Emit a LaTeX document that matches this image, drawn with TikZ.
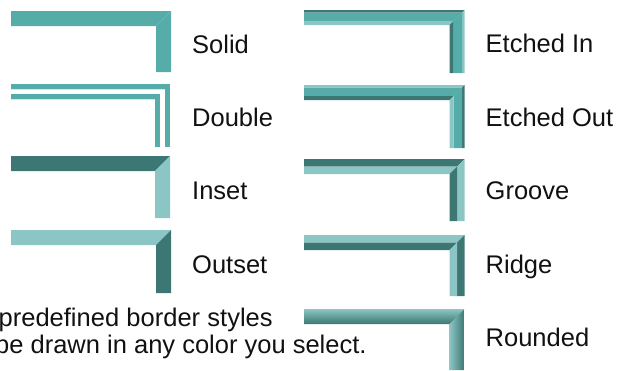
\documentclass[tikz,border=0pt]{standalone}
\usepackage{fontspec}
\setmainfont{Liberation Sans}
\definecolor{tmid}{HTML}{56ACA9}
\definecolor{tdark}{HTML}{3C7773}
\definecolor{tlight}{HTML}{8BC6C4}
\definecolor{tpale}{HTML}{D3EAE9}
\definecolor{ink}{HTML}{111111}
% band along the top edge: left, top, right, offset a, offset b, colour
\newcommand\topband[6]{%
  \fill[#6] (#1,{#2+#4}) -- ({#3-#4},{#2+#4}) -- ({#3-#5},{#2+#5}) -- (#1,{#2+#5}) -- cycle;}
% band along the right edge: top, right, bottom, offset a, offset b, colour
\newcommand\sideband[6]{%
  \fill[#6] ({#2-#4},{#1+#4}) -- ({#2-#4},#3) -- ({#2-#5},#3) -- ({#2-#5},{#1+#5}) -- cycle;}
\tikzset{
  label/.style={anchor=base west, inner sep=0pt, text=ink,
    font=\fontsize{25.5}{30}\selectfont},
}
\begin{document}
\begin{tikzpicture}[x=1pt,y=-1pt]
\useasboundingbox (0,0) rectangle (627,370);
\clip (0,0) rectangle (627,370);
% ---- Solid
\topband{11}{11}{171}{0}{15}{tmid}
\sideband{11}{171}{72}{0}{15}{tmid}
% ---- Double
\fill[tmid] (11,84) rectangle (170,89);
\fill[tpale] (11,89) rectangle (165,90);
\fill[tmid] (165,84) rectangle (170,147);
\fill[tmid] (11,94) rectangle (160,99);
\fill[tpale] (11,99) rectangle (155,100);
\fill[tmid] (155,94) rectangle (160,147);
% ---- Inset
\topband{11}{156}{170}{0}{15}{tdark}
\sideband{156}{170}{218}{0}{15}{tlight}
% ---- Outset
\topband{11}{230}{171}{0}{15}{tlight}
\sideband{230}{171}{293}{0}{15}{tdark}
% ---- Etched In
\topband{304}{10}{464.5}{0}{2.5}{tdark}
\topband{304}{10}{464.5}{2.5}{11}{tmid}
\topband{304}{10}{464.5}{11}{15}{tlight}
\sideband{10}{464.5}{73}{0}{2.5}{tlight}
\sideband{10}{464.5}{73}{2.5}{11}{tmid}
\sideband{10}{464.5}{73}{11}{15}{tdark}
% ---- Etched Out
\topband{304}{85}{464.5}{0}{2.5}{tlight}
\topband{304}{85}{464.5}{2.5}{11}{tmid}
\topband{304}{85}{464.5}{11}{15}{tdark}
\sideband{85}{464.5}{148}{0}{2.5}{tdark}
\sideband{85}{464.5}{148}{2.5}{11}{tmid}
\sideband{85}{464.5}{148}{11}{15}{tlight}
% ---- Groove
\topband{304}{159}{464.5}{0}{7.5}{tdark}
\topband{304}{159}{464.5}{7.5}{15}{tlight}
\sideband{159}{464.5}{221}{0}{7.5}{tlight}
\sideband{159}{464.5}{221}{7.5}{15}{tdark}
% ---- Ridge
\topband{304}{235}{464.5}{0}{7.5}{tlight}
\topband{304}{235}{464.5}{7.5}{15}{tdark}
\sideband{235}{464.5}{296}{0}{7.5}{tdark}
\sideband{235}{464.5}{296}{7.5}{15}{tlight}
% ---- Rounded
\shade[top color=tlight, middle color=tmid, bottom color=tdark]
  (304,309) -- (464.5,309) -- (449.5,324) -- (304,324) -- cycle;
\shade[left color=tlight, middle color=tmid, right color=tdark]
  (464.5,309) -- (464.5,370) -- (449.5,370) -- (449.5,324) -- cycle;
% ---- labels
\node[label] (solid)  at (192,53)  {Solid};
\node[label] (double) at (192,126) {Double};
\node[label] (inset)  at (192,199) {Inset};
\node[label] (outset) at (192,273) {Outset};
\node[label] (etchin)  at (485.5,52)  {Etched In};
\node[label] (etchout) at (485.5,126) {Etched Out};
\node[label] (groove)  at (485.5,199) {Groove};
\node[label] (ridge)   at (485.5,273) {Ridge};
\node[label] (rounded) at (485.5,346) {Rounded};
% ---- caption lines
\node[label] (capone) at (-1.5,326) {\makebox[274pt][s]{predefined border styles}};
\node[label] (captwo) at (-5,353) {be drawn in any color you select.};
\end{tikzpicture}
\end{document}
